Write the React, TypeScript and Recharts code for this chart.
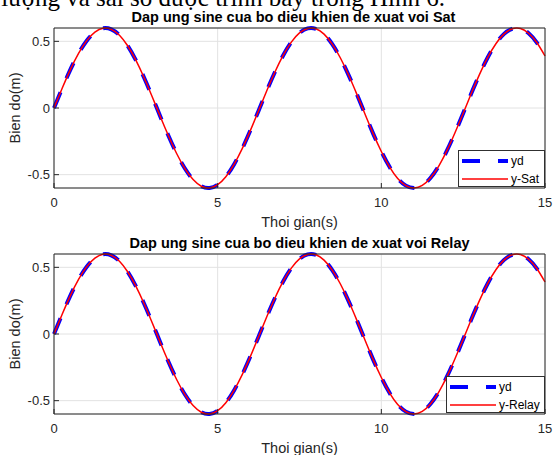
import React from 'react';
import { LineChart, Line, XAxis, YAxis, CartesianGrid, Legend } from 'recharts';

// time samples (s)
const time = [
  0, 0.25, 0.5, 0.75, 1, 1.25, 1.5, 1.75, 2, 2.25, 2.5, 2.75, 3, 3.25, 3.5, 3.75,
  4, 4.25, 4.5, 4.75, 5, 5.25, 5.5, 5.75, 6, 6.25, 6.5, 6.75, 7, 7.25, 7.5, 7.75,
  8, 8.25, 8.5, 8.75, 9, 9.25, 9.5, 9.75, 10, 10.25, 10.5, 10.75, 11, 11.25, 11.5, 11.75,
  12, 12.25, 12.5, 12.75, 13, 13.25, 13.5, 13.75, 14, 14.25, 14.5, 14.75, 15,
];

// desired reference yd (m)
const yd = [
  0, 0.148, 0.288, 0.409, 0.505, 0.569, 0.598, 0.59, 0.546, 0.467, 0.359, 0.229, 0.085, -0.065, -0.21, -0.343,
  -0.454, -0.537, -0.587, -0.6, -0.575, -0.515, -0.423, -0.305, -0.168, -0.02, 0.129, 0.27, 0.394, 0.494, 0.563, 0.597,
  0.594, 0.554, 0.479, 0.375, 0.247, 0.104, -0.045, -0.192, -0.326, -0.441, -0.528, -0.582, -0.6, -0.581, -0.525, -0.437,
  -0.322, -0.186, -0.04, 0.11, 0.252, 0.379, 0.482, 0.556, 0.594, 0.596, 0.561, 0.491, 0.39,
];

// output with Sat
const ySat = [
  0, 0.148, 0.288, 0.409, 0.505, 0.569, 0.598, 0.59, 0.546, 0.467, 0.359, 0.229, 0.085, -0.065, -0.21, -0.343,
  -0.454, -0.537, -0.587, -0.6, -0.575, -0.515, -0.423, -0.305, -0.168, -0.02, 0.129, 0.27, 0.394, 0.494, 0.563, 0.597,
  0.594, 0.554, 0.479, 0.375, 0.247, 0.104, -0.045, -0.192, -0.326, -0.441, -0.528, -0.582, -0.6, -0.581, -0.525, -0.437,
  -0.322, -0.186, -0.04, 0.11, 0.252, 0.379, 0.482, 0.556, 0.594, 0.596, 0.561, 0.491, 0.39,
];

// output with Relay
const yRelay = [
  0, 0.148, 0.288, 0.409, 0.505, 0.569, 0.598, 0.59, 0.546, 0.467, 0.359, 0.229, 0.085, -0.065, -0.21, -0.343,
  -0.454, -0.537, -0.587, -0.6, -0.575, -0.515, -0.423, -0.305, -0.168, -0.02, 0.129, 0.27, 0.394, 0.494, 0.563, 0.597,
  0.594, 0.554, 0.479, 0.375, 0.247, 0.104, -0.045, -0.192, -0.326, -0.441, -0.528, -0.582, -0.6, -0.581, -0.525, -0.437,
  -0.322, -0.186, -0.04, 0.11, 0.252, 0.379, 0.482, 0.556, 0.594, 0.596, 0.561, 0.491, 0.39,
];

const xTicks = [0, 5, 10, 15];
const yTicks = [-0.5, 0, 0.5];
const xDomain = [0, 15];
const yDomain = [-0.6, 0.6];
const xLabelText = 'Thoi gian(s)';
const yLabelText = 'Bien do(m)';
const refName = 'yd';
const satName = 'y-Sat';
const relayName = 'y-Relay';
const titleSat = 'Dap ung sine cua bo dieu khien de xuat voi Sat';
const titleRelay = 'Dap ung sine cua bo dieu khien de xuat voi Relay';
const captionText = 'lượng và sai số được trình bày trong Hình 6.';

const SANS = '"Liberation Sans", Arial, Helvetica, sans-serif';
const AXIS = '#262626';

const YLabel = (props: any) => {
  const vb = props.viewBox || {};
  const cy = vb.y + vb.height / 2;
  const cx = 14.5;
  return (
    <text
      x={cx}
      y={cy}
      transform={`rotate(-90 ${cx} ${cy})`}
      textAnchor="middle"
      dominantBaseline="central"
      fontFamily={SANS}
      fontSize={14.5}
      fill={AXIS}
    >
      {yLabelText}
    </text>
  );
};

const LegendBox = ({ name, width }: { name: string; width: number }) => (
  <div
    style={{
      width,
      height: 37,
      border: '1px solid #303030',
      background: '#fff',
      boxSizing: 'border-box',
    }}
  >
    <svg width={width - 2} height={35} style={{ display: 'block' }}>
      <line x1={3} x2={49} y1={10} y2={10} stroke="#0000ff" strokeWidth={4} strokeDasharray="18 18" />
      <text x={52} y={10} dominantBaseline="central" fontFamily={SANS} fontSize={12} fill="#000">
        {refName}
      </text>
      <line x1={3} x2={49} y1={28} y2={28} stroke="#ff0000" strokeWidth={1.5} />
      <text x={52} y={28} dominantBaseline="central" fontFamily={SANS} fontSize={12} fill="#000">
        {name}
      </text>
    </svg>
  </div>
);

function Panel({
  title,
  titleX,
  outValues,
  outName,
  legendWidth,
}: {
  title: string;
  titleX: number;
  outValues: number[];
  outName: string;
  legendWidth: number;
}) {
  const data = time.map((t, i) => ({ t, ref: yd[i], out: outValues[i] }));
  return (
    <div style={{ position: 'relative', width: 553, height: 232 }}>
      <LineChart width={553} height={232} data={data} margin={{ top: 27, right: 7, left: 0, bottom: 0 }}>
        <CartesianGrid stroke="#e2e2e2" strokeWidth={1} />
        <XAxis
          dataKey="t"
          type="number"
          domain={xDomain}
          ticks={xTicks}
          height={44}
          tickSize={-5}
          tickMargin={15}
          stroke={AXIS}
          tick={{ fill: AXIS, fontSize: 13, fontFamily: SANS }}
          label={{
            value: xLabelText,
            position: 'insideBottom',
            offset: 5,
            fill: AXIS,
            fontSize: 14.5,
            fontFamily: SANS,
          }}
        />
        <XAxis
          xAxisId="top"
          orientation="top"
          dataKey="t"
          type="number"
          domain={xDomain}
          ticks={xTicks}
          height={1}
          tick={false}
          tickSize={-5}
          stroke={AXIS}
        />
        <YAxis
          type="number"
          domain={yDomain}
          ticks={yTicks}
          width={54}
          tickSize={-5}
          tickMargin={9}
          stroke={AXIS}
          tick={{ fill: AXIS, fontSize: 13, fontFamily: SANS }}
          label={<YLabel />}
        />
        <YAxis
          yAxisId="right"
          orientation="right"
          type="number"
          domain={yDomain}
          ticks={yTicks}
          width={1}
          tick={false}
          tickSize={-5}
          stroke={AXIS}
        />
        <Line
          dataKey="ref"
          type="natural"
          stroke="#0000ff"
          strokeWidth={4}
          strokeDasharray="17 15"
          dot={false}
          activeDot={false}
          isAnimationActive={false}
        />
        <Line
          dataKey="out"
          type="natural"
          stroke="#ff0000"
          strokeWidth={1.5}
          dot={false}
          activeDot={false}
          isAnimationActive={false}
        />
        <Legend
          layout="horizontal"
          verticalAlign="middle"
          align="center"
          wrapperStyle={{ left: 545 - legendWidth, top: 150, width: legendWidth, height: 37 }}
          content={() => <LegendBox name={outName} width={legendWidth} />}
        />
      </LineChart>
      <div
        style={{
          position: 'absolute',
          left: titleX - 250,
          width: 500,
          top: 8,
          textAlign: 'center',
          fontFamily: SANS,
          fontWeight: 'bold',
          fontSize: 14.5,
          lineHeight: '18px',
          color: '#000',
          whiteSpace: 'nowrap',
        }}
      >
        {title}
      </div>
    </div>
  );
}

export default function App() {
  return (
    <div style={{ position: 'absolute', left: 0, top: 0, width: 553, height: 455, background: '#fff', overflow: 'hidden' }}>
      <div
        style={{
          position: 'absolute',
          left: 445 - 700,
          width: 700,
          top: -15.5,
          textAlign: 'right',
          fontFamily: '"Liberation Serif", "Times New Roman", serif',
          fontSize: 25,
          lineHeight: '25px',
          color: '#000',
          whiteSpace: 'nowrap',
        }}
      >
        {captionText}
      </div>
      <div style={{ position: 'absolute', left: 0, top: 0 }}>
        <Panel title={titleSat} titleX={293.5} outValues={ySat} outName={satName} legendWidth={87} />
      </div>
      <div style={{ position: 'absolute', left: 0, top: 226 }}>
        <Panel title={titleRelay} titleX={299.5} outValues={yRelay} outName={relayName} legendWidth={99} />
      </div>
    </div>
  );
}
